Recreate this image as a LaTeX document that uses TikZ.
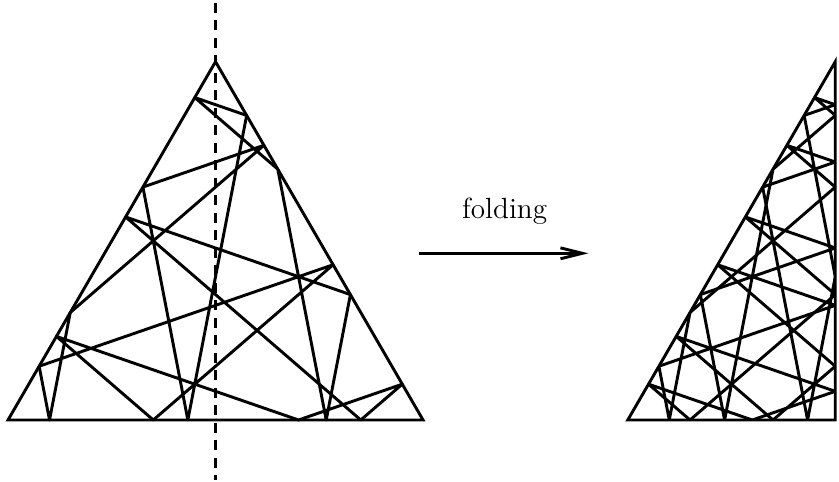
\documentclass[tikz,border=0pt]{standalone}
\usepackage{tikz}
\usetikzlibrary{arrows.meta, calc}

% bounce points of the closed billiard path (t0 = 0.15) and the path itself;
% needs the corners (A), (B), (C) of the current triangle
\newcommand{\orbit}{%
  \foreach \pt/\frac/\from/\to in {l1/0.9/A/C, l2/0.65/A/C, l3/0.5667/A/C,
      l4/0.3/A/C, l5/0.2333/A/C, l6/0.15/A/C,
      r1/0.85/B/C, r2/0.7667/B/C, r3/0.7/B/C, r4/0.35/B/C, r5/0.1/B/C, r6/0.4333/B/C,
      b1/0.1/A/B, b2/0.35/A/B, b3/0.4333/A/B, b4/0.7/A/B, b5/0.7667/A/B, b6/0.85/A/B}
    \coordinate (\pt) at ($(\from)!\frac!(\to)$);
  \draw[ray] (l6) -- (r6) -- (b2) -- (l5) -- (b4) -- (r5) -- (b6) -- (l3) -- (r4)
    -- (b5) -- (r3) -- (l1) -- (r1) -- (b3) -- (l2) -- (r2) -- (l4) -- (b1) -- cycle;
}

\begin{document}
\begin{tikzpicture}[
  wall/.style={very thick, line join=miter},
  ray/.style={very thick, line join=round},
  axis/.style={very thick, dash pattern=on 4pt off 3.2pt},
  foldarrow/.style={-{Straight Barb[length=9pt, width=4.5pt]}, very thick},
  lbl/.style={font=\large, anchor=base}
]
\useasboundingbox (-0.116,-0.896) rectangle (12.014,6.072);

% Triangle with the billiard path
\coordinate (A) at (0,0);
\coordinate (B) at (6,0);
\coordinate (C) at (3,5.18);
\orbit
\draw[wall] (A) -- (B) -- (C) -- cycle;

% Symmetry axis
\coordinate (axtop) at (3,6.03);
\coordinate (axbot) at (3,-0.87);
\draw[axis] (axtop) -- (axbot);

% Arrow with label
\coordinate (arrL) at (5.94,2.41);
\coordinate (arrR) at (8.39,2.41);
\draw[foldarrow] (arrL) -- (arrR);
\node[lbl] (foldlbl) at (7.18,2.92) {folding};

% Folded half: left half plus the mirrored right half
\begin{scope}[xshift=8.96cm]
  \coordinate (fA) at (0,0);
  \coordinate (fM) at (3,0);
  \coordinate (fC) at (3,5.18);
  \begin{scope}
    \clip (fA) -- (fM) -- (fC) -- cycle;
    \coordinate (A) at (0,0);
    \coordinate (B) at (6,0);
    \coordinate (C) at (3,5.18);
    \orbit
    \begin{scope}[xshift=6cm, xscale=-1]
      \coordinate (A) at (0,0);
      \coordinate (B) at (6,0);
      \coordinate (C) at (3,5.18);
      \orbit
    \end{scope}
  \end{scope}
  \draw[wall] (fA) -- (fM) -- (fC) -- cycle;
\end{scope}

\end{tikzpicture}
\end{document}
